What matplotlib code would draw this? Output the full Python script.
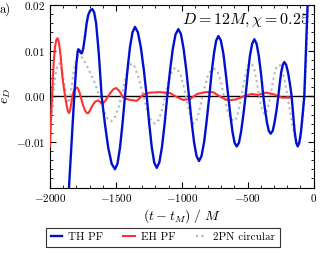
import numpy as np
import matplotlib
matplotlib.use("Agg")
import matplotlib.pyplot as plt
from matplotlib.ticker import MultipleLocator

plt.rcParams['font.family'] = ['cmr10']
plt.rcParams['mathtext.fontset'] = 'cm'
plt.rcParams['axes.formatter.use_mathtext'] = True

# values
th_t = [-1865, -1856, -1836, -1816, -1800, -1790, -1785, -1777, -1767, -1759,
        -1748, -1735, -1722, -1710, -1695, -1679, -1665, -1650, -1630, -1608,
        -1583, -1558, -1532, -1507, -1488, -1469, -1450, -1431,
        -1412, -1393, -1374, -1355, -1333, -1311, -1288, -1266,
        -1247, -1228, -1209, -1190, -1170, -1150, -1130, -1110,
        -1089, -1068, -1047, -1026, -1006, -986, -965, -945,
        -926, -907, -888, -869, -850, -830, -811, -791,
        -774, -756, -739, -722, -703, -684, -666, -647,
        -631, -615, -599, -583, -566, -550, -533, -516,
        -499, -483, -466, -449, -432, -415, -398, -381,
        -367, -353, -339, -325, -310, -296, -281, -267,
        -256, -245, -233, -222, -208, -194, -180, -166,
        -154, -143, -131, -120, -108, -95, -83, -70,
        -60, -50, -42]
th_e = [-0.024, -0.020, -0.010, 0.0, 0.007, 0.0098, 0.0103, 0.0101, 0.0095, 0.0094,
        0.0104, 0.013, 0.016, 0.0178, 0.0188, 0.0191, 0.0184, 0.016, 0.0095, 0.0,
        -0.0061, -0.0113, -0.0148, -0.0160, -0.0148, -0.0113, -0.0061, 0.0,
        0.0058, 0.0108, 0.014, 0.0152, 0.014, 0.0108, 0.0058, 0.0,
        -0.006, -0.0111, -0.0145, -0.0157, -0.0145, -0.0111, -0.006, 0.0,
        0.0056, 0.0104, 0.0136, 0.0147, 0.0136, 0.0104, 0.0056, 0.0,
        -0.0054, -0.010, -0.0131, -0.0142, -0.0131, -0.010, -0.0054, 0.0,
        0.005, 0.0093, 0.0122, 0.0132, 0.0122, 0.0093, 0.005, 0.0,
        -0.0042, -0.0078, -0.0102, -0.0110, -0.0102, -0.0078, -0.0042, 0.0,
        0.0048, 0.0088, 0.0115, 0.0125, 0.0115, 0.0088, 0.0048, 0.0,
        -0.0031, -0.0058, -0.0076, -0.0082, -0.0076, -0.0058, -0.0031, 0.0,
        0.0029, 0.0053, 0.0069, 0.0075, 0.0069, 0.0053, 0.0029, 0.0,
        -0.0042, -0.0078, -0.0102, -0.0110, -0.0102, -0.0078, -0.0042, 0.0,
        0.008, 0.016, 0.022]

eh_t = [-2000, -1995, -1988, -1980, -1972, -1962, -1952, -1942, -1932, -1920,
        -1905, -1886, -1872, -1864, -1856, -1848, -1840, -1830, -1820, -1807,
        -1793, -1780, -1765, -1750, -1735, -1720, -1709, -1695, -1675, -1658,
        -1636, -1620, -1605, -1585, -1567, -1545, -1520, -1499, -1475, -1446,
        -1420, -1393, -1340, -1294, -1241, -1165, -1089, -1036, -990, -937,
        -884, -823, -763, -702, -649, -588, -528, -470, -420, -360,
        -300, -239, -178]
eh_e = [-0.011, -0.007, -0.002, 0.003, 0.0075, 0.0108, 0.0124, 0.0127, 0.0118, 0.009,
        0.004, 0.0, -0.0022, -0.0033, -0.0037, -0.0031, -0.0018, 0.0, 0.0011, 0.0018,
        0.0019, 0.0012, -0.0003, -0.0019, -0.0031, -0.0037, -0.0037, -0.003, -0.0019, -0.0012,
        -0.0009, -0.0012, -0.0016, -0.0012, -0.0004, 0.0006, 0.0015, 0.0018, 0.0012, -0.0002,
        -0.0006, -0.0008, -0.001, 0.0003, 0.0008, 0.0009, 0.0007, -0.0002, -0.0008, -0.0006,
        0.0005, 0.0009, 0.0009, -0.0002, -0.0009, -0.0007, 0.0, 0.0005, 0.0003, 0.0008,
        0.0004, -0.0003, -0.0003]

pn_t = [-2000, -1985, -1970, -1955, -1940, -1924, -1908, -1890, -1875, -1860,
        -1845, -1830, -1810, -1790, -1772, -1750, -1720, -1690, -1658, -1633,
        -1600, -1570, -1537, -1510, -1480, -1450, -1420, -1400, -1380, -1360,
        -1330, -1294, -1260, -1230, -1203, -1175, -1145, -1115, -1090, -1065,
        -1040, -1010, -980, -950, -930, -912, -890, -865, -835, -805,
        -780, -755, -730, -705, -680, -650, -625, -600, -580, -560,
        -535, -510, -490, -470, -450, -430, -410, -390, -370, -350,
        -330, -310, -290, -270, -254, -238, -220, -200, -180, -160,
        -140, -118, -100, -85, -70, -55, -45, -38]
pn_e = [-0.006, -0.003, 0.002, 0.0055, 0.007, 0.0072, 0.0055, 0.0025, 0.0, -0.0015,
        0.0, 0.0035, 0.0072, 0.0087, 0.0089, 0.0083, 0.0067, 0.0048, 0.0028, 0.0006,
        -0.0025, -0.0047, -0.0055, -0.0048, -0.0025, 0.001, 0.0048, 0.0066, 0.0072, 0.0066,
        0.0042, 0.0005, -0.0035, -0.0055, -0.006, -0.0052, -0.0025, 0.0015, 0.0045, 0.006,
        0.0062, 0.0048, 0.0015, -0.0025, -0.0048, -0.006, -0.0055, -0.003, 0.001, 0.0042,
        0.0056, 0.006, 0.0055, 0.0035, 0.0, -0.0035, -0.005, -0.0055, -0.0045, -0.002,
        0.002, 0.0055, 0.007, 0.0072, 0.006, 0.003, -0.0005, -0.003, -0.004, -0.003,
        -0.0005, 0.003, 0.0058, 0.0068, 0.0068, 0.0058, 0.0035, 0.0005, -0.003, -0.0065,
        -0.0092, -0.0105, -0.0095, -0.006, 0.0, 0.008, 0.016, 0.022]

fig = plt.figure(figsize=(3.26, 2.54), dpi=100)
ax = fig.add_axes([0.1534, 0.2618, 0.8083, 0.7185])

ax.axhline(0, color='black', lw=1.0, zorder=1)
ax.plot(pn_t, pn_e, ls=':', color='#b4b4b4', lw=1.5, label='2PN circular', zorder=2)
ax.plot(eh_t, eh_e, color='#ff3030', lw=1.5, label='EH PF', zorder=3)
ax.plot(th_t, th_e, color='#0010d0', lw=1.7, label='TH PF', zorder=4)

ax.set_xlim(-2000, 0)
ax.set_ylim(-0.02, 0.02)
ax.xaxis.set_major_locator(MultipleLocator(500))
ax.xaxis.set_minor_locator(MultipleLocator(100))
ax.yaxis.set_major_locator(MultipleLocator(0.01))
ax.yaxis.set_minor_locator(MultipleLocator(0.002))
ax.set_yticks([-0.01, 0.0, 0.01, 0.02])
ax.set_yticklabels(['$-0.01$', '$0.00$', '$0.01$', '$0.02$'])
ax.tick_params(which='both', direction='in', top=True, right=True, labelsize=8)
ax.tick_params(which='major', length=4)
ax.tick_params(which='minor', length=2)

ax.set_xlabel(r'$(t - t_M)\ /\ M$', fontsize=10, labelpad=2)
ax.set_ylabel(r'$e_D$', fontsize=10, labelpad=2)
ax.text(0.985, 0.96, r'$D = 12M, \chi = 0.25$', transform=ax.transAxes,
        ha='right', va='top', fontsize=11.5)
fig.text(0.0, 0.99, 'a)', ha='left', va='top', fontsize=9)

h, l = ax.get_legend_handles_labels()
order = [2, 1, 0]
leg = fig.legend([h[i] for i in order], [l[i] for i in order], loc='center',
                 bbox_to_anchor=(0.5, 0.065), ncol=3, fontsize=8, frameon=True,
                 fancybox=False, edgecolor='black', handlelength=1.0,
                 columnspacing=1.8, handletextpad=0.6, borderpad=0.4)
leg.get_frame().set_linewidth(0.8)

fig.savefig('out.png', dpi=100)
